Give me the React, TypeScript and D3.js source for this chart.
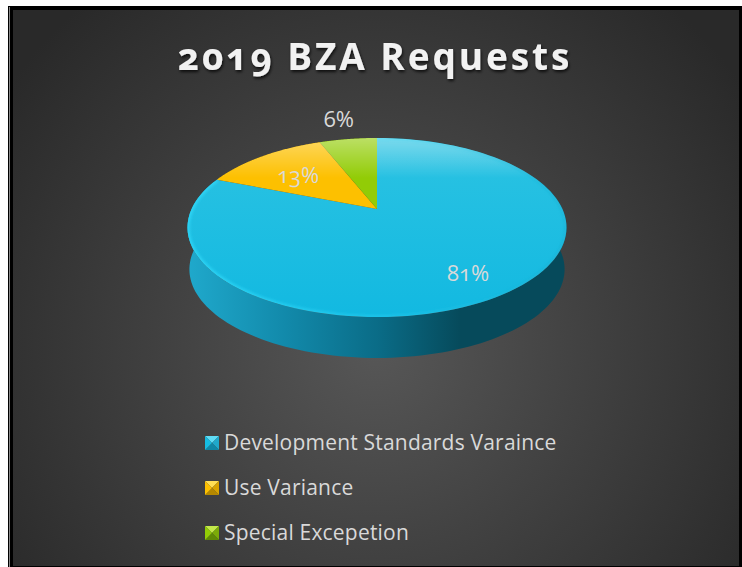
import React from 'react';
import * as d3 from 'd3';

const title = '2019 BZA Requests';
const categories = ['Development Standards Varaince', 'Use Variance', 'Special Excepetion'];
const values = [81, 13, 6];
const percentLabels = ['81%', '13%', '6%'];

const width = 742;
const height = 567;
const FONT = '"Open Sans", Lato, sans-serif';
const OLD_STYLE = { fontFeatureSettings: '"onum" 1', fontVariantNumeric: 'oldstyle-nums' };

// apex of the pie and the perspective of the tilted disc
const cx = 377;
const cy = 209;
const radiusX = 185.4;
const radiusY = 85.7;
const tilt = -0.2067;
const depth = 42;
const bottomScale = 0.99;

// same colours for slice and swatch
const colors = [
  { base: '#15bce2', light: '#5fdcf5', dark: '#0f86a6', mid: '#1fa8cb' },
  { base: '#fdc000', light: '#ffdf55', dark: '#b58800', mid: '#d9a400' },
  { base: '#92cc06', light: '#c3e84a', dark: '#5f8a05', mid: '#7bab08' }
];

// angle clockwise from 12 o'clock, r = 1 on the rim
const project = (angle: number, r = 1, scale = 1, dy = 0): [number, number] => {
  const x = Math.sin(angle) * r;
  const y = -Math.cos(angle) * r;
  const w = 1 + tilt * y;
  return [cx + (scale * radiusX * x) / w, cy + dy + (scale * radiusY * y) / w];
};

const line = d3.line();
const arcPoints = (a0: number, a1: number, scale = 1, dy = 0) =>
  d3.range(0, 121).map(i => project(a0 + ((a1 - a0) * i) / 120, 1, scale, dy));

const arcs = d3.pie<number>().sort(null)(values);
const labelRadius = [0.76, 0.66, 1.41];

const slicePath = (a0: number, a1: number) => line([[cx, cy], ...arcPoints(a0, a1)]) + 'Z';
const rimPath = line(arcPoints(0, Math.PI * 2)) + 'Z';
const blueRim = line(arcPoints(arcs[0].startAngle, arcs[0].endAngle));

const wallStart = (Math.PI * 70) / 180;
const wallEnd = (Math.PI * 290) / 180;
const wallPath =
  line([...arcPoints(wallStart, wallEnd, bottomScale, depth), ...arcPoints(wallEnd, wallStart)]) + 'Z';

const legendY = d3.scalePoint<string>().domain(categories).range([443, 533]);

const Swatch = ({ y, c }: { y: number; c: (typeof colors)[number] }) => {
  const x0 = 205;
  const s = 14;
  const y0 = y - s / 2;
  const m: [number, number] = [x0 + s / 2, y0 + s / 2];
  const a: [number, number] = [x0, y0];
  const b: [number, number] = [x0 + s, y0];
  const d: [number, number] = [x0 + s, y0 + s];
  const e: [number, number] = [x0, y0 + s];
  return (
    <g>
      <path d={line([a, b, m]) + 'Z'} fill={c.light} />
      <path d={line([b, d, m]) + 'Z'} fill={c.mid} />
      <path d={line([d, e, m]) + 'Z'} fill={c.dark} />
      <path d={line([e, a, m]) + 'Z'} fill={c.base} />
    </g>
  );
};

export default function App() {
  return (
    <svg
      width={width}
      height={height}
      style={{ position: 'absolute', left: 0, top: 0, background: '#fff' }}
    >
      <defs>
        <radialGradient id="bg" gradientUnits="userSpaceOnUse" cx={376} cy={345} r={450}>
          <stop offset="0" stopColor="#575757" />
          <stop offset="0.45" stopColor="#424242" />
          <stop offset="1" stopColor="#292929" />
        </radialGradient>
        <linearGradient id="wall" gradientUnits="userSpaceOnUse" x1={190} x2={566} y1={0} y2={0}>
          <stop offset="0" stopColor="#1fa8cb" />
          <stop offset="0.25" stopColor="#128aab" />
          <stop offset="0.5" stopColor="#0a6c87" />
          <stop offset="0.72" stopColor="#064a5b" />
          <stop offset="1" stopColor="#064a5b" />
        </linearGradient>
        <linearGradient id="sheen" gradientUnits="userSpaceOnUse" x1={0} x2={0} y1={138} y2={178}>
          <stop offset="0" stopColor="#fff" stopOpacity={0.38} />
          <stop offset="1" stopColor="#fff" stopOpacity={0} />
        </linearGradient>
        <linearGradient id="body" gradientUnits="userSpaceOnUse" x1={0} x2={0} y1={150} y2={317}>
          <stop offset="0" stopColor="#2ac2e2" />
          <stop offset="1" stopColor="#12b9e1" />
        </linearGradient>
        <linearGradient id="rim" gradientUnits="userSpaceOnUse" x1={187} x2={566} y1={0} y2={0}>
          <stop offset="0" stopColor="#35e0ff" stopOpacity={0.7} />
          <stop offset="0.5" stopColor="#35e0ff" stopOpacity={0.3} />
          <stop offset="1" stopColor="#1a9fc0" stopOpacity={0.3} />
        </linearGradient>
        <clipPath id="topClip">
          <path d={rimPath} />
        </clipPath>
        <filter id="rimBlur" x="-5%" y="-5%" width="110%" height="110%">
          <feGaussianBlur stdDeviation="1.5" />
        </filter>
        <filter id="titleShadow" x="-5%" y="-20%" width="110%" height="140%">
          <feDropShadow dx="1" dy="2" stdDeviation="1.5" floodColor="#000" floodOpacity="0.75" />
        </filter>
      </defs>

      <rect x={8} y={6} width={734} height={561} fill="#000" />
      <rect x={9} y={7} width={1} height={560} fill="#8a8a8a" />
      <rect x={13} y={10} width={726} height={556} fill="url(#bg)" />

      <text
        x={375}
        y={70}
        textAnchor="middle"
        fontFamily={FONT}
        fontWeight={700}
        fontSize={37}
        letterSpacing={2.9}
        fill="#f2f2f2"
        filter="url(#titleShadow)"
        style={OLD_STYLE}
      >
        {title}
      </text>

      <path d={wallPath} fill="url(#wall)" />
      {arcs.map((a, i) => (
        <path
          key={i}
          d={slicePath(a.startAngle, a.endAngle)}
          fill={i === 0 ? 'url(#body)' : colors[i].base}
        />
      ))}
      <g clipPath="url(#topClip)">
        <path d={rimPath} fill="url(#sheen)" />
        <path d={blueRim as string} fill="none" stroke="url(#rim)" strokeWidth={4} filter="url(#rimBlur)" />
      </g>

      {arcs.map((a, i) => {
        const [lx, ly] = project((a.startAngle + a.endAngle) / 2, labelRadius[i]);
        return (
          <text
            key={i}
            x={lx}
            y={ly + 2.5}
            dy="0.35em"
            textAnchor="middle"
            fontFamily={FONT}
            fontSize={22}
            fill="#d9d9d9"
            style={OLD_STYLE}
          >
            {percentLabels[i]}
          </text>
        );
      })}

      {categories.map((name, i) => (
        <g key={name}>
          <Swatch y={legendY(name) as number} c={colors[i]} />
          <text
            x={224}
            y={(legendY(name) as number) + 7}
            fontFamily={FONT}
            fontSize={21}
            letterSpacing={0.2}
            fill="#d9d9d9"
          >
            {name}
          </text>
        </g>
      ))}
    </svg>
  );
}
